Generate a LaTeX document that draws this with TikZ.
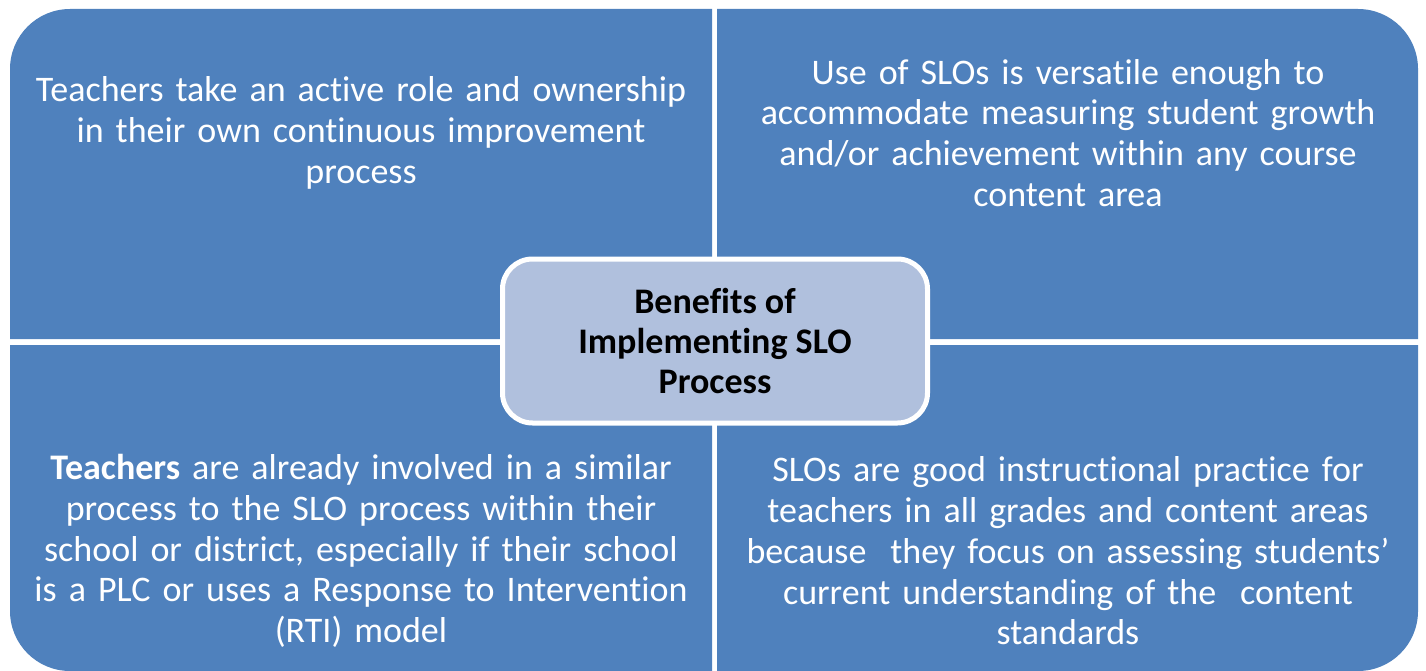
\documentclass[tikz,border=0pt]{standalone}
\usepackage{fontspec}
\setmainfont{Carlito}[Ligatures=NoCommon]
\usetikzlibrary{positioning}

\definecolor{quadblue}{HTML}{4F81BD}
\definecolor{hubfill}{HTML}{B0C0DD}

\tikzset{
  quad/.style={fill=quadblue},
  quadtext/.style={text=white, align=center, text width=700pt, inner sep=0pt,
                   font=\fontsize{36}{40.8}\selectfont},
  hub/.style={draw=white, line width=5pt, fill=hubfill, rounded corners=30pt,
              minimum width=425pt, minimum height=164pt, align=center,
              font=\fontsize{36}{40}\selectfont\bfseries}
}

\begin{document}
\begin{tikzpicture}[x=1pt,y=-1pt]
  \useasboundingbox (0,0) rectangle (1426,671);

  % four quadrants, outer corner rounded
  \fill[quad] (712,339) -- (10,339) [rounded corners=60pt] -- (10,9) [sharp corners] -- (712,9) -- cycle;
  \fill[quad] (717,339) -- (717,9) [rounded corners=60pt] -- (1418,9) [sharp corners] -- (1418,339) -- cycle;
  \fill[quad] (712,345) -- (10,345) [rounded corners=60pt] -- (10,671) [sharp corners] -- (712,671) -- cycle;
  \fill[quad] (717,345) -- (717,671) [rounded corners=60pt] -- (1418,671) [sharp corners] -- (1418,345) -- cycle;

  \node[quadtext] (owner) at (361,133) {Teachers take an active role and ownership\\
    in their own continuous improvement\\ process};
  \node[quadtext] (versatile) at (1068,133) {Use of SLOs is versatile enough to\\
    accommodate measuring student growth\\ and/or achievement within any course\\ content area};
  \node[quadtext] (involved) at (361,551) {\textbf{Teachers} are already involved in a similar\\
    process to the SLO process within their\\ school or district, especially if their school\\
    is a PLC or uses a Response to Intervention\\ (RTI) model};
  \node[quadtext] (practice) at (1068,551) {SLOs are good instructional practice for\\
    teachers in all grades and content areas\\ because \ they focus on assessing students’\\
    current understanding of the \ content\\ standards};

  \node[hub] (benefits) at (715,341) {Benefits of\\ Implementing SLO\\ Process};
\end{tikzpicture}
\end{document}
